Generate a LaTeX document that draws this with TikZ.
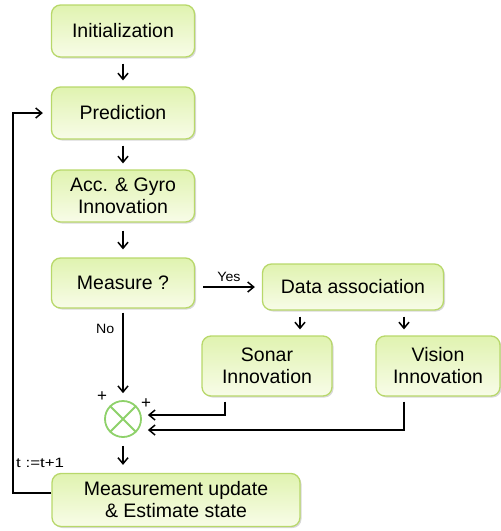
\documentclass[tikz,border=0pt]{standalone}
\usepackage{fontspec}
\setmainfont{Liberation Sans}
\usetikzlibrary{arrows.meta,shadows}
\definecolor{boxborder}{HTML}{B8D86A}
\definecolor{boxtop}{HTML}{F8FCE8}
\definecolor{boxbot}{HTML}{E0F3B0}
\definecolor{sumgreen}{HTML}{8ED16A}
\newcommand{\wider}[2]{\scalebox{#1}[1]{#2}}
\tikzset{
  stepbox/.style={draw=boxborder, line width=1.3pt, rounded corners=9pt,
    left color=boxbot, right color=boxtop, shading angle=0,
    drop shadow={shadow xshift=1.5pt, shadow yshift=-1.5pt, fill=black!30, opacity=0.5},
    align=center, inner sep=0pt, font=\fontsize{19.5}{22}\selectfont},
  arr/.style={-{Straight Barb[length=6pt,width=10pt,line width=1.5pt]}, line width=1.5pt},
  small/.style={font=\fontsize{13.5}{15}\selectfont, inner sep=0pt},
  plus/.style={font=\fontsize{17}{18}\selectfont, inner sep=0pt},
}
\begin{document}
\begin{tikzpicture}[x=1pt,y=-1pt]
\useasboundingbox (0,0) rectangle (501,531);
\node[stepbox, minimum width=143pt, minimum height=52pt] (init) at (123,31) {Initialization};
\node[stepbox, minimum width=143pt, minimum height=52pt] (pred) at (123,113) {Prediction};
\node[stepbox, minimum width=143pt, minimum height=52pt] (acc) at (123,196) {Acc. \& Gyro\\Innovation};
\node[stepbox, minimum width=143pt, minimum height=50pt] (meas) at (123,283) {Measure ?};
\node[stepbox, minimum width=181pt, minimum height=46pt] (data) at (353,287) {Data association};
\node[stepbox, minimum width=130pt, minimum height=60pt] (sonar) at (267,366) {Sonar\\Innovation};
\node[stepbox, minimum width=124pt, minimum height=60pt] (vision) at (438,366) {Vision\\Innovation};
\node[stepbox, minimum width=248pt, minimum height=53pt] (upd) at (176,500) {Measurement update\\\& Estimate state};
\node[circle, draw=sumgreen, line width=1.8pt, fill=white, minimum size=36pt, inner sep=0pt] (sum) at (123,419) {};
\draw[sumgreen, line width=1.8pt] (sum.45) -- (sum.225) (sum.135) -- (sum.315);
% straight arrows
\draw[arr] ([yshift=-6pt]init.south) -- ([yshift=6pt]pred.north);
\draw[arr] ([yshift=-6pt]pred.south) -- ([yshift=6pt]acc.north);
\draw[arr] ([yshift=-8pt]acc.south) -- ([yshift=8pt]meas.north);
\draw[arr] ([xshift=8pt]meas.east |- data.west) -- ([xshift=-7pt]data.west) node[small, midway, above=5pt] {\wider{1.05}{Yes}};
\draw[arr] ([yshift=-4pt]meas.south) -- ([yshift=7pt]sum.north) node[small, pos=0.2, left=8pt] {\wider{1.05}{No}};
\draw[arr] ([yshift=-6pt]data.south -| 300,0) -- ([yshift=6pt]sonar.north -| 300,0);
\draw[arr] ([yshift=-6pt]data.south -| 404,0) -- ([yshift=6pt]vision.north -| 404,0);
\draw[arr] ([yshift=-5pt]sonar.south -| 225,0) |- ([xshift=6pt]sum.east |- 0,415);
\draw[arr] ([yshift=-5pt]vision.south -| 404,0) |- ([xshift=6pt]sum.east |- 0,430);
\draw[arr] ([yshift=-8pt]sum.south) -- ([yshift=8pt]sum.south |- upd.north);
\draw[arr] (upd.west |- 0,493) -| (13,0 |- pred.west) -- ([xshift=-8pt]pred.west);
\node[plus] (p1) at (102,397) {+};
\node[plus] (p2) at (146,404) {+};
\node[small, anchor=west] (tt) at (16,463) {\wider{1.25}{t :=t+1}};
\end{tikzpicture}
\end{document}
